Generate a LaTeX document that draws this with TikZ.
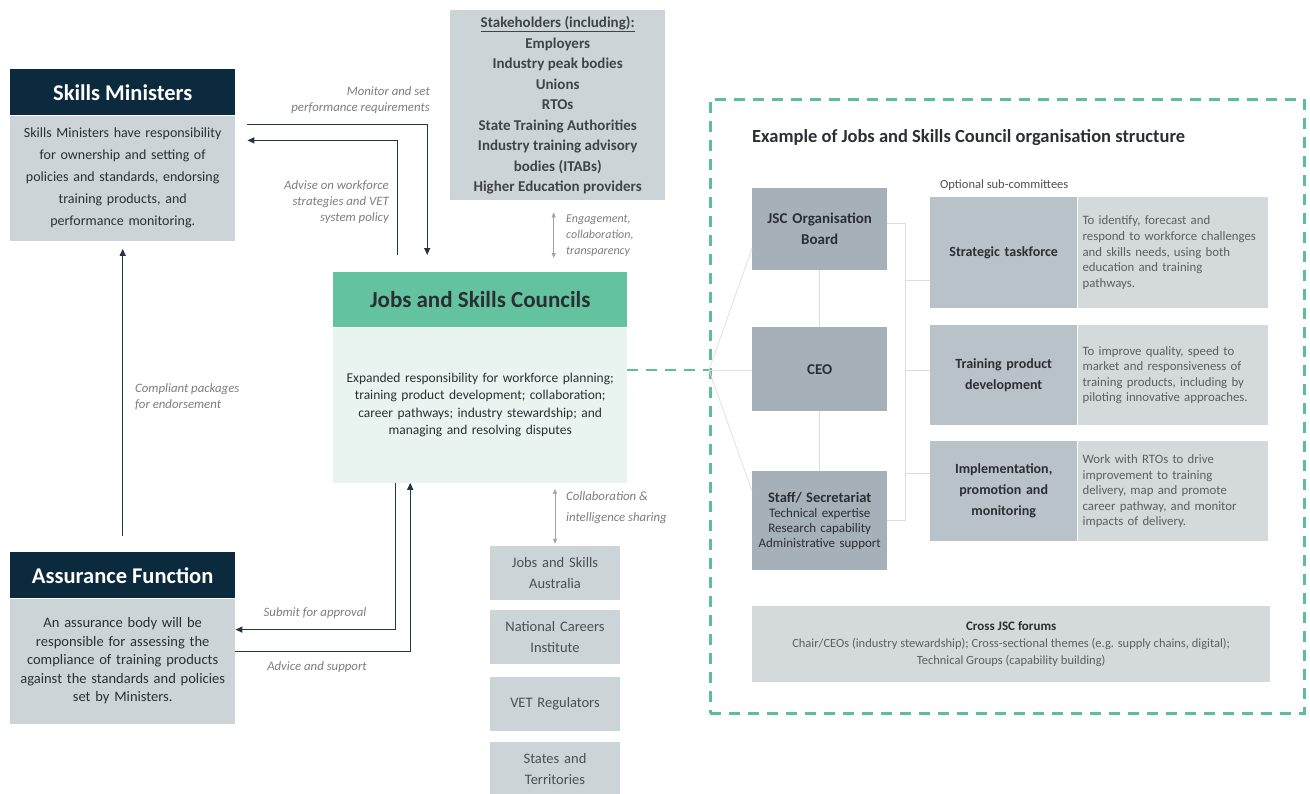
\documentclass[tikz,border=0pt]{standalone}
\usepackage{fontspec}
\setmainfont{Carlito}
\usetikzlibrary{positioning,arrows.meta}

\definecolor{navy}{HTML}{0C2A3D}
\definecolor{paneGrey}{HTML}{CDD4D8}
\definecolor{jscTeal}{HTML}{63C3A1}
\definecolor{jscMint}{HTML}{E9F4F0}
\definecolor{orgGrey}{HTML}{A6B0B8}
\definecolor{subGrey}{HTML}{B9C2C8}
\definecolor{descGrey}{HTML}{D4D9DC}
\definecolor{frameGreen}{HTML}{5DBE9A}
\definecolor{inkDark}{HTML}{2B2F33}
\definecolor{descInk}{HTML}{5A5F63}
\definecolor{noteGrey}{HTML}{7D7D7D}
\definecolor{tieGrey}{HTML}{D9DDE0}
\definecolor{fanPink}{HTML}{E6DADA}
\definecolor{flowInk}{HTML}{243645}

\newcommand{\fsz}[2]{\fontsize{#1}{#2}\selectfont}

\begin{document}
\begin{tikzpicture}[
  x=1pt, y=-1pt,
  headbox/.style={fill=navy, text=white, font=\bfseries\fsz{22.5}{26}, minimum width=225pt, minimum height=46pt, inner sep=0pt, anchor=north west},
  bodybox/.style={fill=paneGrey, text=inkDark, font=\fsz{14}{22}, text width=221pt, align=center, minimum height=125pt, inner xsep=2pt, inner ysep=0pt},
  stakebox/.style={fill=paneGrey, text=inkDark!90, font=\bfseries\fsz{15}{20.5}, minimum width=215pt, minimum height=190pt, align=center, inner sep=0pt, anchor=north west},
  jschead/.style={fill=jscTeal, text=inkDark, font=\bfseries\fsz{23}{26}, minimum width=294pt, minimum height=55pt, inner sep=0pt, anchor=north west},
  jscbody/.style={fill=jscMint, text=inkDark, font=\fsz{13.5}{17.5}, text width=290pt, align=center, minimum height=155pt, inner xsep=2pt, inner ysep=0pt},
  smallbox/.style={fill=paneGrey, text=inkDark!85, minimum width=130pt, minimum height=54pt, text width=126pt, align=center, font=\fsz{14.5}{21}, inner sep=0pt},
  orgbox/.style={fill=orgGrey, text=inkDark, minimum width=135pt, text width=131pt, align=center, inner sep=0pt, anchor=north west, font=\bfseries\fsz{15}{21}},
  subhead/.style={fill=subGrey, text=inkDark, minimum width=147pt, text width=140pt, align=center, inner sep=0pt, anchor=north west, font=\bfseries\fsz{14}{21}},
  subdesc/.style={fill=descGrey, text=descInk, minimum width=190pt, text width=180pt, align=left, inner sep=0pt, font=\fsz{12.8}{15.6}},
  note/.style={text=noteGrey, font=\itshape\fsz{12.8}{16}, inner sep=0pt},
  flow/.style={draw=flowInk, line width=1.3pt, -{Triangle[length=7pt,width=6pt]}},
  twoway/.style={draw=noteGrey!70, line width=0.8pt, {Triangle[length=5pt,width=4pt]}-{Triangle[length=5pt,width=4pt]}},
  tie/.style={draw=tieGrey, line width=1pt},
  fan/.style={draw=fanPink, line width=0.7pt},
  greendash/.style={draw=frameGreen, line width=2.5pt, dash pattern=on 11pt off 8pt}
]
\useasboundingbox (0,0) rectangle (1310,793);

% Left column
\node[headbox] (skillsHead) at (10,69) {Skills Ministers};
\node[bodybox, below=0pt of skillsHead] (skillsBody) {Skills Ministers have responsibility\\ for ownership and setting of\\ policies and standards, endorsing\\ training products, and\\ performance monitoring.};

\node[headbox] (assureHead) at (10,552) {Assurance Function};
\node[bodybox, below=0pt of assureHead, font=\fsz{14.5}{18.5}] (assureBody) {An assurance body will be\\ responsible for assessing the\\ compliance of training products\\ against the standards and policies\\ set by Ministers.};

% Stakeholders
\node[stakebox] (stake) at (450,10) {\underline{Stakeholders (including):}\\ Employers\\ Industry peak bodies\\ Unions\\ RTOs\\ State Training Authorities\\ Industry training advisory\\ bodies (ITABs)\\ Higher Education providers};

% Jobs and Skills Councils
\node[jschead] (jscHead) at (333,272) {Jobs and Skills Councils};
\node[jscbody, below=0pt of jscHead] (jscBody) {Expanded responsibility for workforce planning;\\ training product development; collaboration;\\ career pathways; industry stewardship; and\\ managing and resolving disputes};

% Partner agencies
\node[smallbox] (jsa) at (555,573) {Jobs and Skills\\ Australia};
\node[smallbox, below=10pt of jsa] (nci) {National Careers\\ Institute};
\node[smallbox, below=12pt of nci] (vet) {VET Regulators};
\node[smallbox, below=11pt of vet] (states) {States and\\ Territories};

% Arrows on the left
\draw[flow, shorten <=16pt, shorten >=8pt] (assureHead.north) -- (skillsBody.south);
\node[note, anchor=west, align=left] (compliantNote) at (135,397) {Compliant packages\\ for endorsement};

\draw[flow, shorten >=17pt] ([xshift=12pt,yshift=-9pt]skillsBody.north east) -| ([xshift=-53pt]jscHead.north);
\node[note, anchor=east, align=right] (monitorNote) at (430,100) {Monitor and set\\ performance requirements};

\draw[flow, shorten <=17pt] ([xshift=-83pt]jscHead.north) |- ([xshift=12pt,yshift=-25pt]skillsBody.north east);
\node[note, anchor=east, align=right] (adviseNote) at (389,202) {Advise on workforce\\ strategies and VET\\ system policy};

\draw[flow] ([xshift=-85pt]jscBody.south) |- ([yshift=31.5pt]assureBody.east);
\node[note] (submitNote) at (315,613) {Submit for approval};

\draw[flow] ([yshift=9.5pt]assureBody.east) -| ([xshift=-70pt]jscBody.south);
\node[note] (adviceNote) at (317,667) {Advice and support};

% Two-way links
\draw[twoway, shorten <=12pt, shorten >=14pt] ([xshift=-4pt]stake.south) -- ([xshift=-4pt]stake.south |- jscHead.north);
\node[note, anchor=west, align=left, font=\itshape\fsz{12}{16}] (engageNote) at (566,236) {Engagement,\\ collaboration,\\ transparency};

\draw[twoway, shorten <=6pt, shorten >=2pt] (jsa.north |- jscBody.south) -- (jsa.north);
\node[note, anchor=west, align=left, font=\itshape\fsz{12.8}{21}] (collabNote) at (566,508) {Collaboration \&\\ intelligence sharing};

% Organisation structure
\node[greendash, minimum width=594pt, minimum height=614pt, inner sep=0pt, anchor=north west] (orgFrame) at (709,98) {};
\coordinate (hub) at (709,370);
\draw[greendash] (jscBody.east |- hub) -- (hub);

\node[anchor=west, font=\bfseries\fsz{18.5}{20}, text=inkDark, inner sep=0pt] (orgTitle) at (752,138) {Example of Jobs and Skills Council organisation structure};

\node[orgbox, minimum height=82pt] (board) at (752,188) {JSC Organisation\\ Board};
\node[orgbox, minimum height=84pt] (ceo) at (752,327) {CEO};
\node[orgbox, minimum height=99pt, font=\fsz{13}{15}] (staff) at (752,471) {\textbf{\fsz{14.5}{17}Staff/ Secretariat}\\ Technical expertise\\ Research capability\\ Administrative support};

\draw[fan] (hub) -- ([yshift=22pt]board.south west);
\draw[fan] (hub) -- (ceo.west |- hub);
\draw[fan] (hub) -- ([yshift=-20pt]staff.north west);

\draw[tie] (board) -- (ceo);
\draw[tie] (ceo) -- (staff);

\node[anchor=west, font=\fsz{12.5}{14}, text=inkDark!85, inner sep=0pt] (optNote) at (940,185) {Optional sub-committees};

\node[subhead, minimum height=111pt] (strat) at (930,197) {Strategic taskforce};
\node[subdesc, minimum height=111pt, right=0pt of strat] (stratNote) {To identify, forecast and\\ respond to workforce challenges\\ and skills needs, using both\\ education and training\\ pathways.};

\node[subhead, minimum height=100pt] (train) at (930,325) {Training product\\ development};
\node[subdesc, minimum height=100pt, right=0pt of train] (trainNote) {To improve quality, speed to\\ market and responsiveness of\\ training products, including by\\ piloting innovative approaches.};

\node[subhead, minimum height=100pt] (impl) at (930,441) {Implementation,\\ promotion and\\ monitoring};
\node[subdesc, minimum height=100pt, right=0pt of impl] (implNote) {Work with RTOs to drive\\ improvement to training\\ delivery, map and promote\\ career pathway, and monitor\\ impacts of delivery.};

\draw[tie] ([yshift=-35pt]board.north east) -- ++(18,0) coordinate (rail) |- (staff.east);
\draw[tie] (rail |- 0,280) -- (strat.west |- 0,280);
\draw[tie] (rail |- hub) -- (train.west |- hub);
\draw[tie] (rail |- 0,473) -- (impl.west |- 0,473);

\node[fill=descGrey, text=descInk, minimum width=518pt, minimum height=76pt, inner sep=0pt, anchor=north west, align=center, font=\fsz{12.5}{17}] (forums) at (752,606) {\textbf{\textcolor{inkDark}{\fsz{13}{17}Cross JSC forums}}\\ Chair/CEOs (industry stewardship); Cross-sectional themes (e.g. supply chains, digital);\\ Technical Groups (capability building)};

\end{tikzpicture}
\end{document}
